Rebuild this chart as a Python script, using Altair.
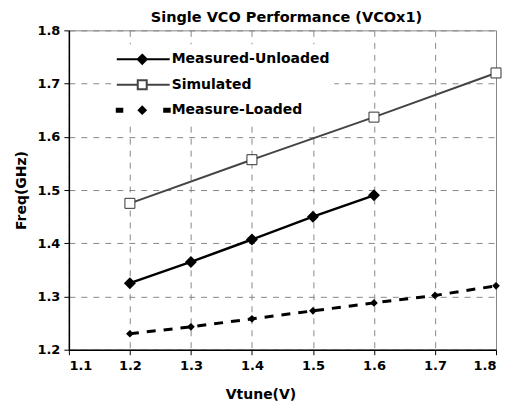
import altair as alt
import pandas as pd

vtune = [1.2, 1.3, 1.4, 1.5, 1.6, 1.7, 1.8]
measured_unloaded = [1.325, 1.365, 1.407, 1.450, 1.490, None, None]
simulated = [1.475, None, 1.557, None, 1.637, None, 1.720]
measure_loaded = [1.230, 1.243, 1.258, 1.273, 1.288, 1.302, 1.320]

series_names = ["Measured-Unloaded", "Simulated", "Measure-Loaded"]
series_values = [measured_unloaded, simulated, measure_loaded]

rows = []
for name, vals in zip(series_names, series_values):
    for x, v in zip(vtune, vals):
        if v is not None:
            rows.append({"vtune": x, "freq": v, "series": name})
df = pd.DataFrame(rows)

FONT = "DejaVu Sans"

xenc = alt.X("vtune:Q", scale=alt.Scale(domain=[1.1, 1.8], nice=False),
             axis=alt.Axis(values=[1.1, 1.2, 1.3, 1.4, 1.5, 1.6, 1.7, 1.8], format=".1f",
                           title="Vtune(V)", titleX=192, titleY=45, titleBaseline="middle"))
yenc = alt.Y("freq:Q", scale=alt.Scale(domain=[1.2, 1.8], nice=False, zero=False),
             axis=alt.Axis(values=[1.2, 1.3, 1.4, 1.5, 1.6, 1.7, 1.8], format=".1f",
                           title="Freq(GHz)"))

base = alt.Chart(df).encode(x=xenc, y=yenc)

def sel(name):
    return base.transform_filter(alt.datum.series == name)

line_un = sel("Measured-Unloaded").mark_line(color="black", strokeWidth=2.5)
pts_un = sel("Measured-Unloaded").mark_point(shape="diamond", filled=True, color="black", size=144, opacity=1)
line_sim = sel("Simulated").mark_line(color="#444444", strokeWidth=2)
pts_sim = sel("Simulated").mark_point(shape="square", filled=True, fill="white", stroke="#333333",
                                      strokeWidth=1, size=100, opacity=1)
line_ld = sel("Measure-Loaded").mark_line(color="black", strokeWidth=3, strokeDash=[9, 8])
pts_ld = sel("Measure-Loaded").mark_point(shape="diamond", filled=True, color="black", size=60, opacity=1)

# legend symbol paths (unit = 10px at size 400)
p_un = "M-1,0L4.3,0M1.55,-0.45L2.0,0L1.55,0.45L1.1,0Z"
p_sim = "M-1,0L1.1,0M2.0,0L4.3,0M1.1,-0.45L2.0,-0.45L2.0,0.45L1.1,0.45Z"
p_ld = ("M-1,-0.15L-0.45,-0.15L-0.45,0.15L-1,0.15Z"
        "M3.75,-0.15L4.3,-0.15L4.3,0.15L3.75,0.15Z"
        "M1.55,-0.35L1.9,0L1.55,0.35L1.2,0Z")

leg = alt.Legend(title=None, orient="none", legendX=43, legendY=14, symbolSize=400,
                 symbolStrokeWidth=2, symbolOpacity=1, labelFont=FONT, labelFontSize=14,
                 labelFontWeight="bold", labelColor="black", labelOffset=34, rowPadding=5.5,
                 fillColor="white", padding=4)

legend_layer = alt.Chart(df).mark_point(size=400, opacity=0, filled=True).encode(
    x=xenc, y=yenc,
    shape=alt.Shape("series:N", scale=alt.Scale(domain=series_names, range=[p_un, p_sim, p_ld]), legend=leg),
    fill=alt.Fill("series:N", scale=alt.Scale(domain=series_names, range=["black", "white", "black"]), legend=leg),
    stroke=alt.Stroke("series:N", scale=alt.Scale(domain=series_names, range=["black", "#444444", "black"]), legend=leg),
)

chart = alt.layer(line_sim, pts_sim, line_un, pts_un, line_ld, pts_ld, legend_layer).properties(
    width=428, height=320,
    title=alt.TitleParams("Single VCO Performance (VCOx1)", font=FONT, fontSize=14.5,
                          fontWeight="bold", color="black", anchor="middle", dx=4, dy=2, offset=1),
    autosize=alt.AutoSizeParams(type="none"),
    padding={"left": 61, "top": 22, "right": 8, "bottom": 62},
).configure_view(stroke="#888888", strokeWidth=1).configure_axis(
    labelFont=FONT, labelFontSize=13, labelFontWeight="bold", labelColor="black",
    titleFont=FONT, titleFontSize=14, titleFontWeight="bold", titleColor="black",
    domainColor="black", domainWidth=1.5, tickColor="black", tickSize=5, tickWidth=1,
    grid=True, gridColor="#888888", gridDash=[6, 6], gridWidth=1,
).configure_axisY(labelPadding=4, titlePadding=8).configure_axisX(labelPadding=5)

chart.save("out.html", embed_options={"renderer": "svg", "actions": False})
